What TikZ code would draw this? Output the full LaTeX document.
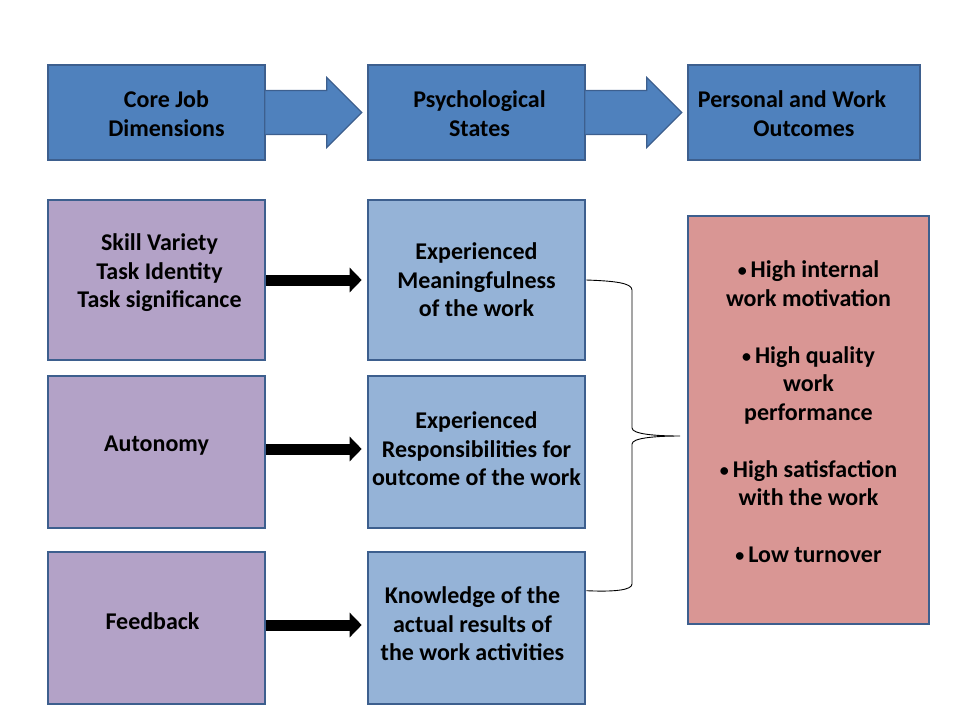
\documentclass[tikz,border=0pt]{standalone}
\usepackage{fontspec}
\setmainfont{Carlito}
\usetikzlibrary{calc,arrows.meta}
\definecolor{topblue}{HTML}{4F81BD}
\definecolor{edgeblue}{HTML}{3D5F8E}
\definecolor{lilac}{HTML}{B3A2C7}
\definecolor{paleblue}{HTML}{95B3D7}
\definecolor{rose}{HTML}{D99694}
\newcommand\bul{\raisebox{1pt}{\scalebox{0.75}{\textbullet}}\,}
\tikzset{
  boxtext/.style={align=center, inner sep=0pt, font=\bfseries\fontsize{24}{28.5}\selectfont, text=black},
  box/.style={draw=edgeblue, line width=2.6pt, inner sep=0pt},
  topbox/.style={box, fill=topblue, minimum height=95pt},
  dimbox/.style={box, fill=lilac, minimum width=217pt},
  psybox/.style={box, fill=paleblue, minimum width=217pt},
  outbox/.style={box, fill=rose},
  blockarrow/.style={fill=topblue, draw=edgeblue, line width=1.2pt, line join=miter},
  fatarrow/.style={line width=11pt, -{Triangle[length=12pt,width=24pt]}},
  bracestyle/.style={draw=black, line width=0.9pt}
}
\begin{document}
\begin{tikzpicture}[x=1pt,y=-1pt]
\useasboundingbox (0,0) rectangle (960,720);
% top row
\node[topbox, minimum width=217pt,
  label={[boxtext, xshift=10pt, yshift=-1pt]center:Core Job\\Dimensions}] (t1) at (156.5,112.5) {};
\node[topbox, minimum width=217pt,
  label={[boxtext, xshift=3pt, yshift=-1pt]center:Psychological\\States}] (t2) at (476.5,112.5) {};
\node[topbox, minimum width=232pt,
  label={[boxtext, yshift=-1pt]center:\hspace*{-24pt}Personal and Work\\Outcomes}] (t3) at (804,112.5) {};
% block arrows
\foreach \a/\b in {t1/t2, t2/t3}{
  \path[blockarrow] ($(\a.east)+(-1,-22)$) -- ($(\b.west)+(-40,-22)$) -- ($(\b.west)+(-40,-35)$)
    -- ($(\b.west)+(-5,0)$) -- ($(\b.west)+(-40,35)$) -- ($(\b.west)+(-40,22)$)
    -- ($(\a.east)+(-1,22)$);
}
% left column
\node[dimbox, minimum height=160pt,
  label={[boxtext, xshift=3pt, yshift=7pt]center:Skill Variety\\Task Identity\\Task significance}] (d1) at (156.5,280) {};
\node[dimbox, minimum height=152pt,
  label={[boxtext, yshift=6pt]center:Autonomy}] (d2) at (156.5,452) {};
\node[dimbox, minimum height=152pt,
  label={[boxtext, xshift=-4pt, yshift=7pt]center:Feedback}] (d3) at (156.5,628) {};
% middle column
\node[psybox, minimum height=160pt,
  label={[boxtext, yshift=0pt]center:Experienced\\Meaningfulness\\of the work}] (m1) at (476.5,280) {};
\node[psybox, minimum height=152pt,
  label={[boxtext, yshift=3pt]center:Experienced\\Responsibilities for\\outcome of the work}] (m2) at (476.5,452) {};
\node[psybox, minimum height=152pt,
  label={[boxtext, xshift=-4pt, yshift=4pt]center:Knowledge of the\\actual results of\\the work activities}] (m3) at (476.5,628) {};
% outcomes
\node[outbox, minimum width=241pt, minimum height=408pt,
  label={[boxtext, yshift=8pt]center:\bul High internal\\work motivation\\[28.5pt]
   \bul High quality\\work\\performance\\[28.5pt]
   \bul High satisfaction\\with the work\\[28.5pt]
   \bul Low turnover}] (o) at (808.5,420) {};
% black arrows
\draw[fatarrow] (d1.east |- m1.west) -- ($(m1.west)+(-5,0)$);
\draw[fatarrow] ($(d2.east)+(0,-3)$) -- ($(m2.west)+(-5,-3)$);
\draw[fatarrow] ($(d3.east)+(0,-3)$) -- ($(m3.west)+(-5,-3)$);
% brace
\coordinate (bt) at (680,436);
\coordinate (bb) at ($(m3.north east)+(0,40)$);
\path[bracestyle] (m1.east) .. controls (615,281) and (632,283) .. (632,290)
  -- (632,428) .. controls (632,434) and (655,436) .. (bt)
  .. controls (655,436) and (632,438) .. (632,444)
  -- (632,584) .. controls (632,590) and (615,592) .. (bb);
\end{tikzpicture}
\end{document}
